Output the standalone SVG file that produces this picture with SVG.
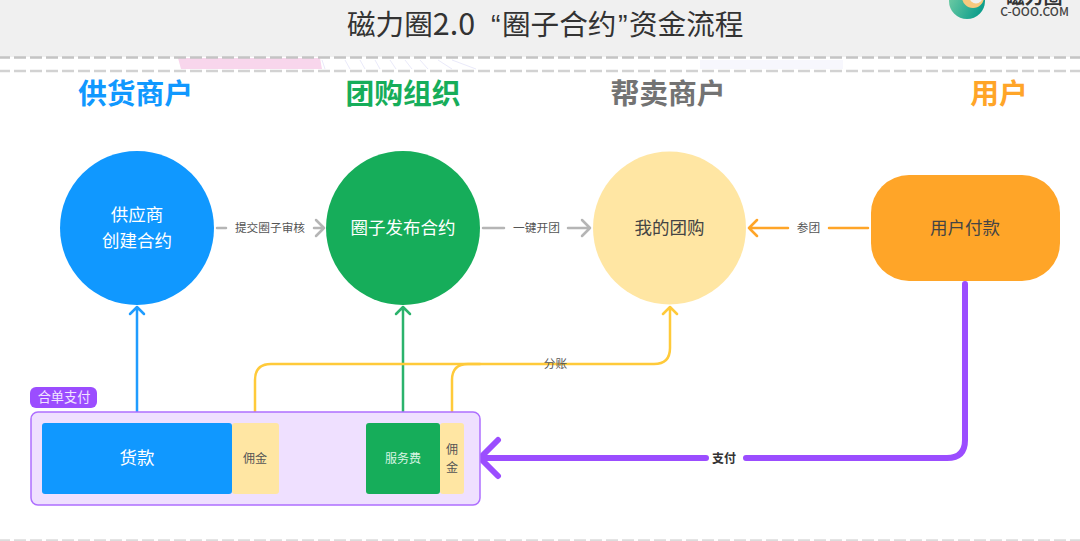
<svg xmlns="http://www.w3.org/2000/svg" width="1080" height="541" viewBox="0 0 1080 541">
<style>
text{font-family:"Noto Sans CJK SC","Liberation Sans",sans-serif;text-anchor:middle}
.h{font-size:28.800px;font-weight:700}
.n{font-size:17.500px}
.l{font-size:11.700px;fill:#555}
.c{fill:none;stroke-linecap:round;stroke-linejoin:round}
.g{stroke:#b5b5b5;stroke-width:2.500}
.y{stroke:#ffca3a;stroke-width:2.500}
.dash{stroke-width:2.500;stroke-dasharray:12 4;fill:none}
</style>
<defs>
<linearGradient id="lg" x1="0" y1="0" x2="1" y2="0.500"><stop offset="0" stop-color="#7fd3a8"/><stop offset="1" stop-color="#0f9f8c"/></linearGradient>
</defs>
<rect width="1080" height="541" fill="#fff"/>
<g id="header">
<rect width="1080" height="57" fill="#f0f0f0"/>
<path d="M178 58H320L322 69H181Z" fill="#f8d6ec"/>
<path d="M700 60H843V69H700Z" fill="#f7f7fd"/>
<path d="M322 60L325 69M345 60L350 69M360 60L365 69M375 60L380 69M390 60L396 69M405 60L412 69M420 60L428 69M438 60L452 69M452 60L476 69" stroke="#eaeafa" stroke-width="1" fill="none"/>
<path class="dash" d="M-2 57.500H1080" stroke="#c4c4c4"/>
<path class="dash" d="M-2 71H1080" stroke="#d2d2d2"/>
<path class="dash" d="M-2 540.500H1080" stroke="#dcdcdc"/>
<text y="35" font-size="28.600" fill="#333" style="text-anchor:start"><tspan x="347">磁力圈</tspan><tspan font-size="30.500">2.0</tspan><tspan x="491" style="font-family:'Liberation Sans',sans-serif">“</tspan><tspan x="502">圈子合约</tspan><tspan x="618" style="font-family:'Liberation Sans',sans-serif">”</tspan><tspan x="629">资金流程</tspan></text>
</g>
<g id="logo">
<circle cx="967" cy="1" r="18" fill="url(#lg)"/>
<circle cx="973" cy="-3" r="11" fill="#f7c97e"/>
<circle cx="976" cy="-3" r="6.500" fill="#f0f0f0"/>
<text x="1034" y="4" font-size="19" font-weight="700" fill="#333">磁力圈</text>
<text x="1034.500" y="16" font-size="12" font-weight="500" fill="#444">C-OOO.COM</text>
</g>
<g id="lane-supplier"><text class="h" x="135.500" y="103.500" fill="#1098ff">供货商户</text></g>
<g id="lane-group"><text class="h" x="403" y="103.500" fill="#16ad5a">团购组织</text></g>
<g id="lane-seller"><text class="h" x="668" y="103.500" fill="#737373">帮卖商户</text></g>
<g id="lane-user"><text class="h" x="999" y="103.500" fill="#ffa528">用户</text></g>

<g id="connectors">
<g id="c1"><path class="c g" d="M217 228H226"/><path class="c g" d="M314 228H324M316 220L324 228L316 236"/><text class="l" x="270" y="232">提交圈子审核</text></g>
<g id="c2"><path class="c g" d="M483 228H504"/><path class="c g" d="M568 228H590M582 220L590 228L582 236"/><text class="l" x="536.500" y="232">一键开团</text></g>
<g id="c3"><path class="c" d="M868 228H829" stroke="#ffa528" stroke-width="2.500"/><path class="c" d="M788 228H749M757 220L749 228L757 236" stroke="#ffa528" stroke-width="2.500"/><text class="l" x="808.500" y="232">参团</text></g>
<g id="c4"><path class="c" d="M137 420V307M130 314L137 307L144 314" stroke="#1f9cff" stroke-width="2.500"/></g>
<g id="c5"><path class="c" d="M403 420V307M396 314L403 307L410 314" stroke="#2bb36c" stroke-width="2.500"/></g>
<g id="c6"><path class="c y" d="M255 420V380Q255 364 271 364H654Q670 364 670 348V307M663 314L670 307L677 314"/><path class="c y" d="M452 420V380Q452 364 468 364H480"/><text class="l" x="555.500" y="368" fill="#444">分账</text></g>
<g id="c7"><path class="c" d="M965 284V440Q965 458 947 458H746" stroke="#9b4dff" stroke-width="6"/><path class="c" d="M706 458H480M498 440L480 458L498 476" stroke="#9b4dff" stroke-width="6"/><text x="724" y="463" font-size="12" font-weight="700" fill="#333">支付</text></g>
</g>

<g id="n-supplier"><circle cx="137" cy="228" r="77" fill="#1098ff"/><text class="n" x="137" y="221" fill="#fff">供应商</text><text class="n" x="137" y="247" fill="#fff">创建合约</text></g>
<g id="n-publish"><circle cx="403" cy="228" r="77" fill="#16ad5a"/><text class="n" x="403" y="234" fill="#fff">圈子发布合约</text></g>
<g id="n-mine"><circle cx="669.500" cy="228" r="76.500" fill="#ffe6a3"/><text class="n" x="669.500" y="234" fill="#444">我的团购</text></g>
<g id="n-pay"><rect x="871" y="175" width="189" height="106" rx="38" fill="#ffa528"/><text class="n" x="965" y="234" fill="#444">用户付款</text></g>

<g id="n-merge">
<rect x="31" y="412" width="449" height="93" rx="7" fill="#efe0ff" stroke="#ae6fff" stroke-width="1.500"/>
<rect x="30" y="387" width="67" height="21" rx="6" fill="#9b4dff"/>
<text x="64" y="402" font-size="13.200" fill="#f1e4ff">合单支付</text>
</g>
<g id="n-goods"><rect x="42" y="423" width="190" height="71" rx="3" fill="#1098ff"/><text x="137" y="464" font-size="17.500" fill="#fff">货款</text></g>
<g id="n-comm1"><rect x="232" y="423" width="47" height="71" rx="3" fill="#ffe6a3"/><text x="255" y="463" font-size="12" fill="#555">佣金</text></g>
<g id="n-fee"><rect x="366" y="423" width="74" height="71" rx="3" fill="#16ad5a"/><text x="403" y="463" font-size="12" fill="#d8f5e4">服务费</text></g>
<g id="n-comm2"><rect x="440" y="423" width="24" height="71" rx="3" fill="#ffe6a3"/><text x="452" y="454" font-size="12" fill="#555">佣</text><text x="452" y="472" font-size="12" fill="#555">金</text></g>
</svg>
